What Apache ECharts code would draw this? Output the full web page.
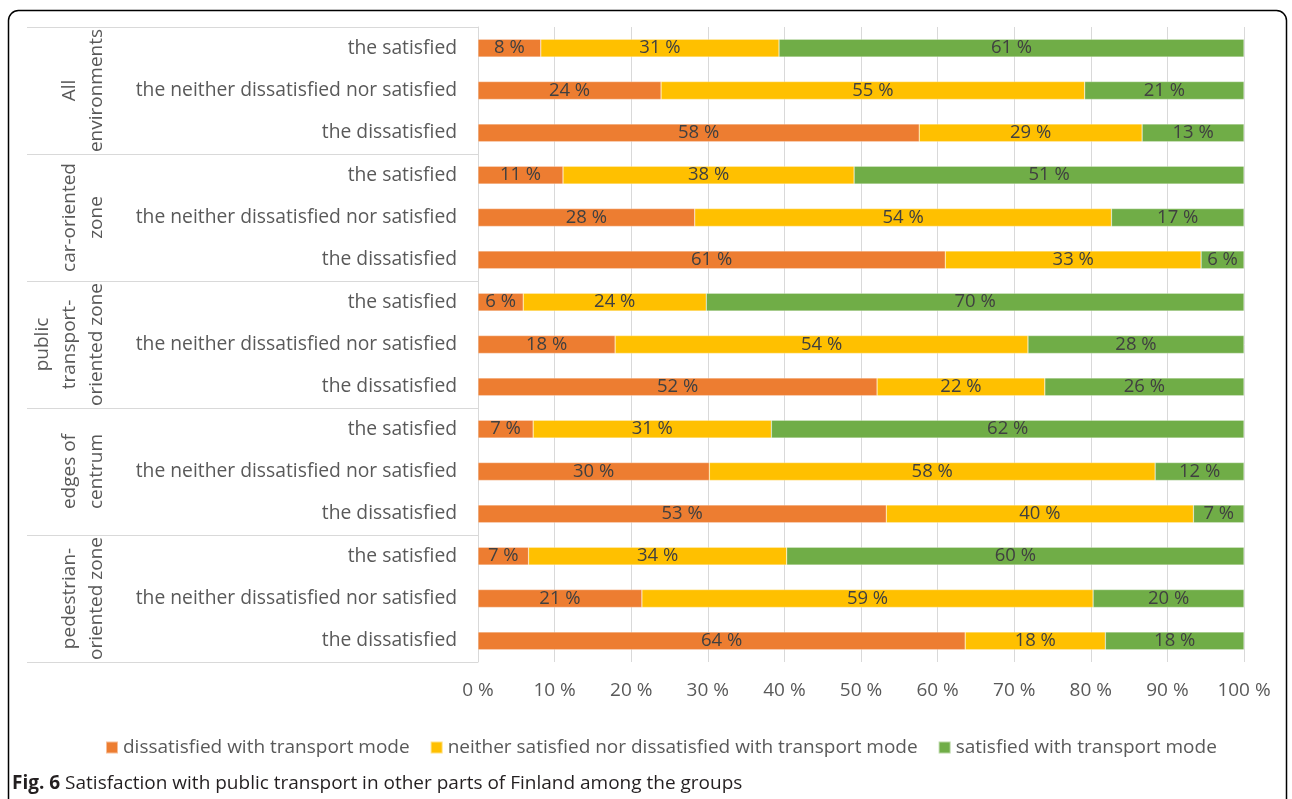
<!DOCTYPE html>
<html>
<head>
<meta charset="utf-8">
<script src="https://cdn.jsdelivr.net/npm/echarts@6/dist/echarts.min.js"></script>
<style>
  html, body { margin: 0; padding: 0; background: #fff; }
  #chart { width: 1292px; height: 799px; }
</style>
</head>
<body>
<div id="chart"></div>
<script>
// ---- data ----
const groups = ['All\nenvironments', 'car-oriented\nzone', 'public\ntransport-\noriented zone', 'edges of\ncentrum', 'pedestrian-\noriented zone'];
const rowLabels = [
  'the satisfied', 'the neither dissatisfied nor satisfied', 'the dissatisfied',
  'the satisfied', 'the neither dissatisfied nor satisfied', 'the dissatisfied',
  'the satisfied', 'the neither dissatisfied nor satisfied', 'the dissatisfied',
  'the satisfied', 'the neither dissatisfied nor satisfied', 'the dissatisfied',
  'the satisfied', 'the neither dissatisfied nor satisfied', 'the dissatisfied'
];
const seriesNames = ['dissatisfied with transport mode', 'neither satisfied nor dissatisfied with transport mode', 'satisfied with transport mode'];
const dissatisfied = [8.2, 23.9, 57.6, 11.1, 28.3, 61.0, 5.9, 17.9, 52.1, 7.2, 30.2, 53.3, 6.6, 21.4, 63.6];
const neither      = [31.1, 55.3, 29.1, 38.0, 54.4, 33.4, 23.9, 53.9, 21.9, 31.1, 58.2, 40.1, 33.7, 58.9, 18.3];
const satisfied    = [60.7, 20.8, 13.3, 50.9, 17.3, 5.6, 70.2, 28.2, 26.0, 61.7, 11.6, 6.6, 59.7, 19.7, 18.1];
const captionLabel = 'Fig. 6';
const caption = 'Satisfaction with public transport in other parts of Finland among the groups';

// ---- chart ----
const FONT = '"Open Sans", "Noto Sans", sans-serif';
const colors = ['#ED7D31', '#FFC000', '#70AD47'];
const chart = echarts.init(document.getElementById('chart'), null, { renderer: 'canvas' });

function mkSeries(name, data, color) {
  return {
    name: name,
    type: 'bar',
    stack: 'total',
    data: data,
    barCategoryGap: '58%',
    itemStyle: { color: color, borderColor: 'rgba(255,255,255,0.5)', borderWidth: 0.5 },
    label: {
      show: true,
      position: 'inside',
      formatter: p => Math.round(p.value) + ' %',
      fontFamily: FONT,
      fontSize: 18.5,
      color: '#404040'
    }
  };
}

chart.setOption({
  animation: false,
  textStyle: { fontFamily: FONT },
  color: colors,
  grid: { left: 478, right: 48, top: 27, bottom: 137, containLabel: false },
  xAxis: {
    type: 'value',
    min: 0, max: 100, interval: 10,
    axisLine: { show: false },
    axisTick: { show: false },
    splitLine: { show: true, lineStyle: { color: '#d9d9d9', width: 1 } },
    axisLabel: { formatter: '{value} %', fontFamily: FONT, fontSize: 19, color: '#595959', margin: 19 }
  },
  yAxis: [
    {
      type: 'category',
      data: rowLabels,
      inverse: true,
      axisLine: { show: true, lineStyle: { color: '#d9d9d9', width: 1 } },
      axisTick: { show: false },
      axisLabel: { interval: 0, fontFamily: FONT, fontSize: 19.3, color: '#595959', margin: 21 }
    },
    {
      type: 'category',
      data: groups,
      inverse: true,
      position: 'left',
      offset: 451,
      axisLine: { show: false },
      axisTick: { show: true, interval: 0, inside: true, length: 451, lineStyle: { color: '#d9d9d9', width: 1 } },
      axisLabel: {
        interval: 0,
        inside: true, rotate: 90, margin: 83,
        align: 'center', verticalAlign: 'bottom',
        lineHeight: 27, fontFamily: FONT, fontSize: 19, color: '#595959'
      }
    }
  ],
  legend: {
    data: seriesNames,
    left: 100,
    top: 733,
    icon: 'rect',
    itemWidth: 12, itemHeight: 12, itemGap: 20,
    textStyle: { fontFamily: FONT, fontSize: 19, color: '#595959' }
  },
  title: {
    text: '{b|' + captionLabel + '} ' + caption,
    left: 12, top: 774, padding: 0,
    textStyle: {
      fontFamily: FONT, fontSize: 19, fontWeight: 'normal', color: '#231f20',
      rich: { b: { fontFamily: FONT, fontSize: 19, fontWeight: 'bold', color: '#231f20' } }
    }
  },
  graphic: [{
    type: 'rect',
    z: -1,
    shape: { x: 8.5, y: 10.5, width: 1278, height: 840, r: 10 },
    style: { fill: 'none', stroke: '#000', lineWidth: 1.5 }
  }],
  series: [
    mkSeries(seriesNames[0], dissatisfied, colors[0]),
    mkSeries(seriesNames[1], neither, colors[1]),
    mkSeries(seriesNames[2], satisfied, colors[2])
  ]
});
</script>
</body>
</html>
